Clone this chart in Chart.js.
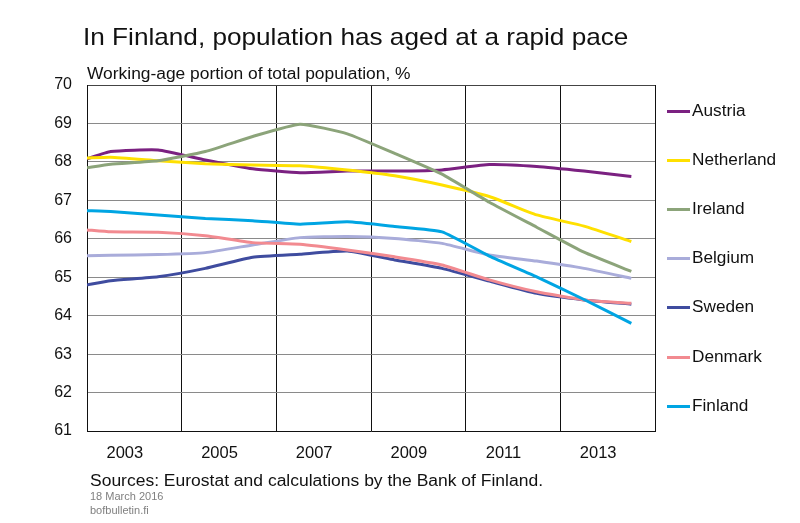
<!DOCTYPE html>
<html>
<head>
<meta charset="utf-8">
<script src="https://cdn.jsdelivr.net/npm/chart.js@4/dist/chart.umd.min.js"></script>
<style>
  html, body { margin:0; padding:0; background:#fff; }
  #wrap { position:relative; width:800px; height:523px; overflow:hidden; font-family:"Liberation Sans", Arial, sans-serif; color:#111; }
  canvas { position:absolute; left:0; top:0; }
  .t { position:absolute; line-height:1; white-space:nowrap; transform-origin:0 0; }
  .leg { position:absolute; line-height:1; white-space:nowrap; font-size:16px; }
  .leg span.sw { position:absolute; left:-25px; top:7px; width:23px; height:3px; }
  .leg span.tx { display:inline-block; transform:scaleX(1.075); transform-origin:0 0; }
</style>
</head>
<body>
<div id="wrap">
  <canvas id="c" width="800" height="523"></canvas>
  <div class="t" style="left:83px; top:25px; font-size:24px; transform:scaleX(1.09);">In Finland, population has aged at a rapid pace</div>
  <div class="t" style="left:87px; top:66px; font-size:16px; transform:scaleX(1.087);">Working-age portion of total population, %</div>
  <div class="t" style="left:90px; top:473px; font-size:16px; transform:scaleX(1.093);">Sources: Eurostat and calculations by the Bank of Finland.</div>
  <div class="t" style="left:90px; top:491px; font-size:11px; color:#808080;">18 March 2016</div>
  <div class="t" style="left:90px; top:505px; font-size:11px; color:#808080;">bofbulletin.fi</div>
  <div id="legend"></div>
</div>
<script>
// Data (x = year position; annual values plotted mid-year)
const years = [2002, 2002.5, 2003.5, 2004.5, 2005.5, 2006.5, 2007.5, 2008.5, 2009.5, 2010.5, 2011.5, 2012.5, 2013.5];
const xTickLabels = ['2003', '2005', '2007', '2009', '2011', '2013'];
const yTicks = [61, 62, 63, 64, 65, 66, 67, 68, 69, 70];

const seriesNames = ['Austria', 'Netherland', 'Ireland', 'Belgium', 'Sweden', 'Denmark', 'Finland'];
const seriesColors = ['#7B2181', '#FFE000', '#8CA47A', '#A9ACDA', '#3F4C9F', '#F28A90', '#00A5E3'];

const austria    = [68.08, 68.27, 68.31, 68.05, 67.82, 67.72, 67.76, 67.76, 67.79, 67.93, 67.88, 67.76, 67.62];
const netherland = [68.10, 68.12, 68.03, 67.95, 67.92, 67.90, 67.79, 67.64, 67.40, 67.10, 66.62, 66.33, 65.93];
const ireland    = [67.85, 67.94, 68.03, 68.27, 68.66, 68.98, 68.73, 68.22, 67.68, 66.95, 66.30, 65.65, 65.15];
const belgium    = [65.56, 65.57, 65.59, 65.64, 65.84, 66.03, 66.06, 66.01, 65.88, 65.58, 65.42, 65.23, 64.97];
const sweden     = [64.80, 64.91, 65.01, 65.23, 65.52, 65.60, 65.68, 65.45, 65.23, 64.90, 64.58, 64.41, 64.30];
const denmark    = [66.23, 66.18, 66.17, 66.08, 65.90, 65.86, 65.71, 65.53, 65.32, 64.93, 64.62, 64.41, 64.32];
const finland    = [66.73, 66.71, 66.62, 66.53, 66.47, 66.38, 66.44, 66.32, 66.18, 65.55, 65.01, 64.42, 63.80];

const seriesValues = [austria, netherland, ireland, belgium, sweden, denmark, finland];

const FONT = '"Liberation Sans", Arial, sans-serif';

const datasets = seriesNames.map((name, i) => ({
  label: name,
  data: years.map((x, j) => ({ x: x, y: seriesValues[i][j] })),
  borderColor: seriesColors[i],
  backgroundColor: seriesColors[i],
  borderWidth: 3,
  pointRadius: 0,
  pointHoverRadius: 0,
  tension: 0.15,
  fill: false,
  order: seriesNames.length - i
}));

new Chart(document.getElementById('c'), {
  type: 'line',
  data: { datasets },
  options: {
    responsive: false,
    animation: false,
    events: [],
    layout: { padding: { top: 85, right: 145, left: 0, bottom: 0 } },
    plugins: { legend: { display: false }, tooltip: { enabled: false }, title: { display: false } },
    scales: {
      x: {
        type: 'linear',
        min: 2002,
        max: 2014,
        afterBuildTicks: (s) => { s.ticks = []; for (let v = 2002; v <= 2014; v++) s.ticks.push({ value: v }); },
        ticks: {
          autoSkip: false,
          maxRotation: 0,
          padding: 13,
          labelOffset: -9.5,
          color: '#111',
          font: { family: FONT, size: 16.5 },
          callback: (v) => xTickLabels.includes(String(v)) ? String(v) : ''
        },
        grid: {
          drawTicks: false,
          lineWidth: 1,
          color: (ctx) => (ctx.tick && ctx.tick.value % 2 === 0) ? '#111' : 'rgba(0,0,0,0)'
        },
        border: { color: '#111', width: 1 },
        afterFit: (s) => { s.height = 523 - 431; }
      },
      y: {
        min: 61,
        max: 70,
        afterBuildTicks: (s) => { s.ticks = yTicks.map(v => ({ value: v })); },
        ticks: {
          padding: 15,
          color: '#111',
          font: { family: FONT, size: 16 },
          callback: (v) => String(v)
        },
        grid: {
          drawTicks: false,
          lineWidth: 1,
          color: (ctx) => (ctx.tick && ctx.tick.value === 70) ? '#444' : '#8a8a8a'
        },
        border: { color: '#111', width: 1 },
        afterFit: (s) => { s.width = 87; }
      }
    }
  }
});

// Legend as text
const leg = document.getElementById('legend');
seriesNames.forEach((name, i) => {
  const d = document.createElement('div');
  d.className = 'leg';
  d.style.left = '692px';
  d.style.top = (103 + i * 49.1) + 'px';
  const sw = document.createElement('span');
  sw.className = 'sw';
  sw.style.background = seriesColors[i];
  d.appendChild(sw);
  const tx = document.createElement('span');
  tx.className = 'tx';
  tx.textContent = name;
  d.appendChild(tx);
  leg.appendChild(d);
});
</script>
</body>
</html>
